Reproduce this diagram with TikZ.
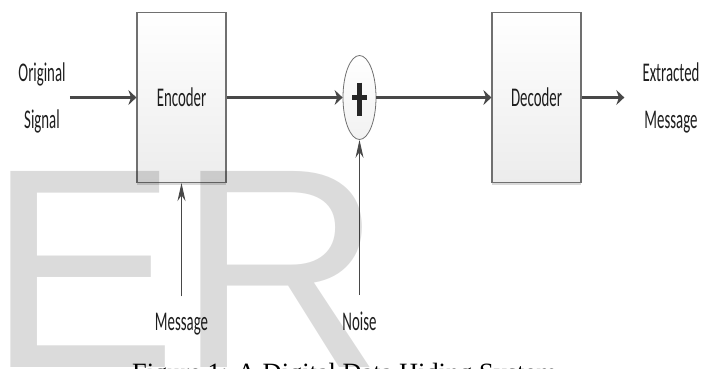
\documentclass[tikz,border=0pt]{standalone}
\usepackage{fontspec}
\newfontfamily\lblfont{Carlito}[FakeStretch=0.55]
\newfontfamily\markfont{Liberation Sans}
\newfontfamily\captfont{Liberation Serif}
\usetikzlibrary{arrows.meta,positioning,shapes.geometric,shadows}
\definecolor{dhline}{RGB}{72,72,72}
\definecolor{dhedge}{RGB}{112,112,112}
\definecolor{dhtext}{RGB}{30,30,30}
\definecolor{dhfill}{RGB}{236,236,236}
\tikzset{
  blockbox/.style={draw=dhedge, line width=1.2pt, top color=white, bottom color=dhfill, minimum width=89pt, minimum height=170pt, inner sep=0pt, align=center, text=dhtext, font={\lblfont\fontsize{27}{47}\selectfont}, drop shadow={shadow xshift=0pt, shadow yshift=-2pt, opacity=0.3}},
  sumnode/.style={ellipse, draw=dhedge, line width=0.8pt, top color=white, bottom color=dhfill!70, minimum width=33pt, minimum height=84pt, inner sep=0pt},
  lbl/.style={align=center, inner sep=4pt, text=dhtext, font={\lblfont\fontsize{27}{47}\selectfont}},
  hflow/.style={-{Stealth[length=8pt,width=15pt]}, line width=2.2pt, dhline},
  vflow/.style={-{Stealth[length=18pt,width=8pt]}, line width=0.9pt, dhline, shorten <=12pt},
  plusbar/.style={line width=4.2pt, black!85}
}
\begin{document}
\begin{tikzpicture}[x=1pt, y=-1pt]
  \useasboundingbox (0,0) rectangle (712,368);
  \clip (0,0) rectangle (712,368);

  %% Blocks
  \node[blockbox] (enc) at (181.5,97.5) {Encoder};
  \node[sumnode]  (sum) at (359.5,97.5) {};
  \node[blockbox] (dec) at (536.5,97.5) {Decoder};
  \draw[plusbar] ([yshift=15pt]sum.center) -- ([yshift=-18pt]sum.center);
  \draw[plusbar] ([xshift=-7.5pt]sum.center) -- ([xshift=7pt]sum.center);

  %% Labels
  \node[lbl] (orig) at (42,97.5)  {Original\\Signal};
  \node[lbl] (extr) at (671,97.5) {Extracted\\Message};
  \node[lbl, anchor=base] (msg)   at (181.5,330) {Message};
  \node[lbl, anchor=base] (noise) at (359.5,330) {Noise};

  %% Signal path
  \draw[hflow] (orig) -- (enc);
  \draw[hflow] (enc) -- (sum);
  \draw[hflow] (sum) -- (dec);
  \draw[hflow, shorten >=14pt] (dec) -- (extr);
  \draw[vflow] (msg) -- (enc);
  \draw[vflow] (noise) -- (sum);

  %% Watermark and caption
  \node[anchor=base west, inner sep=0pt, text=black, text opacity=0.14, font={\markfont\fontsize{285}{285}\selectfont}] (mark) at (-13,367) {ER};
  \node[anchor=base west, inner sep=0pt, font={\captfont\fontsize{26.4}{30}\selectfont}] (capt) at (132,381) {Figure 1: A Digital Data Hiding System};
\end{tikzpicture}
\end{document}
